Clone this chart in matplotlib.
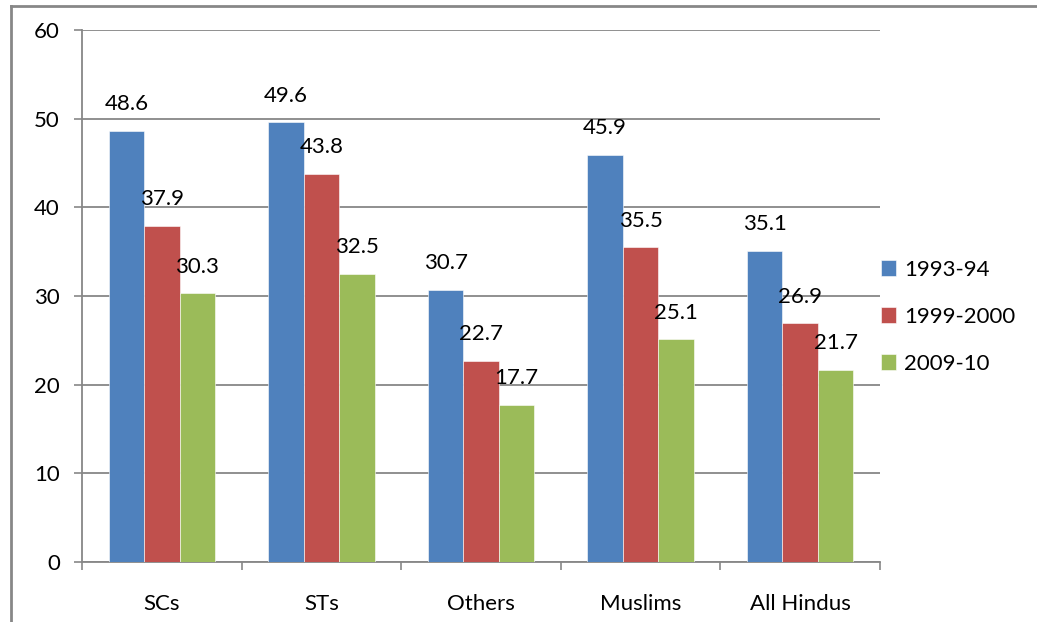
import numpy as np
import matplotlib.pyplot as plt
from matplotlib.lines import Line2D

# ---- Data ----
groups = ['SCs', 'STs', 'Others', 'Muslims', 'All Hindus']
years = ['1993-94', '1999-2000', '2009-10']
v_1993 = [48.6, 49.6, 30.7, 45.9, 35.1]
v_1999 = [37.9, 43.8, 22.7, 35.5, 26.9]
v_2009 = [30.3, 32.5, 17.7, 25.1, 21.7]
yticks = [0, 10, 20, 30, 40, 50, 60]

colors = ['#4F81BD', '#C0504D', '#9BBB59']
grey = '#878787'
fs = 16

plt.rcParams['font.family'] = ['Lato', 'DejaVu Sans']

fig = plt.figure(figsize=(10.37, 6.22), dpi=100)
ax = fig.add_axes([82 / 1037, 60 / 622, 798 / 1037, 532 / 622])

x = np.arange(len(groups))
w = 0.222
for i, (vals, c, lab) in enumerate(zip([v_1993, v_1999, v_2009], colors, years)):
    pos = x + (i - 1) * w
    bars = ax.bar(pos, vals, width=w, color=c, edgecolor='#ffffff', linewidth=0.4,
                  label=lab, zorder=3)
    for b, v in zip(bars, vals):
        ax.annotate(f'{v}', (b.get_x() + b.get_width() / 2, v),
                    xytext=(0, 12), textcoords='offset points',
                    ha='center', va='bottom', fontsize=fs, zorder=4)

# ---- Axes styling ----
ax.set_ylim(0, 60)
ax.set_xlim(-0.5, len(groups) - 0.5)
ax.set_yticks(yticks)
ax.tick_params(axis='y', labelsize=fs, length=6, width=1.2, color=grey, pad=10)
ax.set_xticks(x)
ax.set_xticklabels(groups)
ax.tick_params(axis='x', which='major', labelsize=fs, length=0, pad=23)
ax.set_xticks(np.arange(-0.5, len(groups)), minor=True)
ax.tick_params(axis='x', which='minor', length=6, width=1.2, color=grey)

ax.grid(axis='y', color=grey, linewidth=1.3, zorder=0)
ax.set_axisbelow(True)
for s in ['top', 'right']:
    ax.spines[s].set_visible(False)
for s in ['left', 'bottom']:
    ax.spines[s].set_color(grey)
    ax.spines[s].set_linewidth(1.3)

leg = ax.legend(loc='upper left', bbox_to_anchor=(1.001, 0.568), frameon=False,
                fontsize=fs, handlelength=0.7, handleheight=0.7,
                handletextpad=0.35, labelspacing=1.22,
                borderpad=0, borderaxespad=0)

# ---- Outer chart border ----
fig.add_artist(Line2D([11 / 1037, 11 / 1037], [0, 1 - 6 / 622],
                      transform=fig.transFigure, color=grey, linewidth=2))
fig.add_artist(Line2D([11 / 1037, 1], [1 - 6 / 622, 1 - 6 / 622],
                      transform=fig.transFigure, color=grey, linewidth=2))

fig.savefig('out.png', dpi=100)
